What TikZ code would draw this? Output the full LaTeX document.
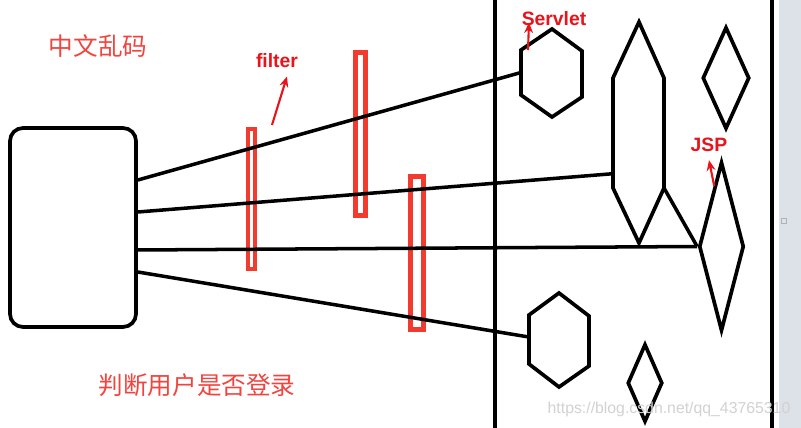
\documentclass[tikz,border=0pt]{standalone}
\usepackage{fontspec}
\setmainfont{Liberation Sans}
\newfontfamily\cjk{Noto Sans CJK SC}
\usetikzlibrary{positioning,shapes.geometric,arrows.meta,calc}

\definecolor{hintred}{HTML}{F2443E}
\definecolor{markred}{HTML}{E8141C}
\definecolor{barred}{HTML}{F23A2E}
\definecolor{scrollgray}{HTML}{DDE1E8}

\begin{document}
\begin{tikzpicture}[
  x=0.02cm,
  y=-0.02cm,
  shp/.style={
    line width=2.1pt,
    line join=miter
  },
  conn/.style={
    line width=2pt
  },
  wall/.style={
    line width=2.1pt
  },
  boxc/.style={
    rectangle,
    draw,
    line width=2.1pt,
    rounded corners=0.26cm,
    minimum width=2.52cm,
    minimum height=3.98cm
  },
  filt/.style={
    rectangle,
    draw=barred,
    line width=2.3pt,
    inner sep=0pt
  },
  diam/.style={
    diamond,
    draw,
    line width=2.1pt,
    inner sep=0pt
  },
  note/.style={
    font=\cjk\fontsize{14}{16}\selectfont,
    text=hintred,
    inner sep=0pt
  },
  tag/.style={
    font=\bfseries\fontsize{11}{13}\selectfont,
    text=markred,
    inner sep=0pt
  },
  tagarr/.style={
    -{Stealth[length=6pt,width=5pt]},
    line width=1.2pt,
    markred
  }
]

\useasboundingbox (0,0) rectangle (801,428);
\fill[white] (0,0) rectangle (801,428);
\fill[scrollgray] (779,0) rectangle (801,428);
\draw[gray!60, line width=0.4pt] (781,218) rectangle (786,223);

% =========================================================
% CLIENTE Y SERVIDOR
% =========================================================

\node[boxc] (client) at (73,227.5) {};

\draw[wall] (495,0) -- (495,428);
\draw[wall] (772,0) -- (772,428);

% --- Servlet ---
\draw[shp]
  (552,29) coordinate (servlet-n)
  -- (582,51) -- (582,97) -- (552,117) -- (521,95)
  -- coordinate[pos=0.5] (servlet-w) (521,50) coordinate (servlet-nw)
  -- cycle;

% --- Hexágono alto ---
\draw[shp]
  (639,22) -- (664,78)
  -- (664,188) coordinate (tall-se)
  -- (639,243) -- (613,188)
  -- coordinate[pos=0.13] (tall-w) (613,78)
  -- cycle;

% --- Hexágono inferior ---
\draw[shp]
  (559,293) -- (589,316) -- (589,366) -- (559,387) -- (529,364)
  -- coordinate[pos=0.55] (login-w) (529,315)
  -- cycle;

% --- JSP ---
\node[diam, minimum width=0.94cm, minimum height=2.04cm] (jsptop) at (726,78) {};
\node[diam, minimum width=0.9cm, minimum height=3.38cm] (jsp) at (721.5,246.5) {};
\node[diam, minimum width=0.7cm, minimum height=1.56cm] (jspsmall) at (645,383) {};

% =========================================================
% FILTROS
% =========================================================

\node[filt, minimum width=0.14cm, minimum height=2.8cm] (filterA) at (251.5,199) {};
\node[filt, minimum width=0.2cm, minimum height=3.26cm] (filterB) at (360.5,134) {};
\node[filt, minimum width=0.26cm, minimum height=3.06cm] (filterC) at (417,253) {};

% =========================================================
% PETICIONES
% =========================================================

\draw[conn] ([yshift=0.95cm]client.east) -- (servlet-w);
\draw[conn] ([yshift=0.31cm]client.east) -- (tall-w);
\draw[conn] ([yshift=-0.45cm]client.east) -- (jsp.west);
\draw[conn] ([yshift=-0.89cm]client.east) -- (login-w);
\draw[conn] (tall-se) -- (jsp.west);

% =========================================================
% TEXTOS
% =========================================================

\node[note] (garbled) at (98,46) {中文乱码};
\node[note] (logincheck) at (197,385) {判断用户是否登录};

\node[tag] (lblfilter) at (277,61) {filter};
\node[tag] (lblservlet) at (554,19) {Servlet};
\node[tag] (lbljsp) at (709,145) {JSP};

\coordinate (filter-tail) at (272,125);
\coordinate (servlet-tail) at (528,50);

\draw[tagarr]
  (filter-tail) -- ([xshift=0.2cm,yshift=-0.16cm]lblfilter.south);
\draw[tagarr]
  (servlet-tail) -- ([xshift=-0.5cm,yshift=0.08cm]lblservlet.south);
\draw[tagarr]
  ($(jsp.north)!0.3!(jsp.west)$) -- ([yshift=-0.16cm]lbljsp.south);

\node[
  font=\fontsize{9}{11}\selectfont,
  text=gray!35,
  inner sep=0pt
] (mark) at (669,409) {https://blog.csdn.net/qq\_43765310};

\end{tikzpicture}
\end{document}
